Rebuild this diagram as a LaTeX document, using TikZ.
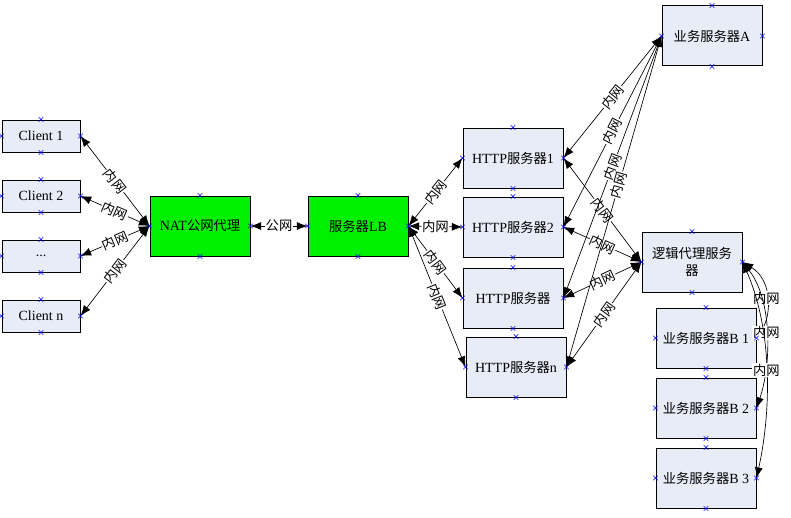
\documentclass[tikz,border=0pt]{standalone}
\usepackage{fontspec}
\setmainfont{Liberation Serif}
\newfontfamily\cjk[Scale=0.95]{Noto Sans CJK SC}
\usepackage{xcolor}
\usepackage{tikz}
\usetikzlibrary{arrows.meta,shapes.misc}

\definecolor{boxblue}{RGB}{232,236,247}
\definecolor{natgreen}{RGB}{0,240,0}
\newcommand\nw{{\cjk 内网}}

\begin{document}
\begin{tikzpicture}[x=0.75pt,y=-0.75pt,
    font=\fontsize{10.5}{12.5}\selectfont,
    box/.style={draw,line width=0.75pt,fill=boxblue,minimum width=75pt,minimum height=45pt,inner sep=1pt,align=center},
    client/.style={box,minimum width=58.5pt,minimum height=24pt},
    green box/.style={box,fill=natgreen},
    link/.style={line width=0.5pt,{Latex[length=8pt,width=6pt]}-{Latex[length=8pt,width=6pt]}},
    lbl/.style={midway,sloped,fill=white,inner sep=0.5pt},
    flat lbl/.style={midway,fill=white,inner sep=0.5pt},
    port/.style={cross out,draw=blue,line width=0.4pt,minimum size=3pt,inner sep=0pt}]
    \useasboundingbox (0,0) rectangle (791,517);

    % clients
    \node [client] (c1) at (41,136) {Client 1};
    \node [client] (c2) at (41,196) {Client 2};
    \node [client] (c3) at (41,256) {...};
    \node [client] (c4) at (41,316) {Client n};

    % proxy and load balancer
    \node [green box] (nat) at (200,226) {NAT{\cjk 公网代理}};
    \node [green box] (lb) at (358,226) {{\cjk 服务器}LB};

    % http servers
    \node [box] (h1) at (513,158) {HTTP{\cjk 服务器}1};
    \node [box] (h2) at (513,227) {HTTP{\cjk 服务器}2};
    \node [box] (h3) at (513,298) {HTTP{\cjk 服务器}};
    \node [box] (h4) at (516,367) {HTTP{\cjk 服务器}n};

    % back end
    \node [box] (srva) at (712,36) {{\cjk 业务服务器}A};
    \node [box] (logic) at (692,262) {{\cjk 逻辑代理服务}\\{\cjk 器}};
    \node [box] (b1) at (706,338) {{\cjk 业务服务器}B 1};
    \node [box] (b2) at (706,408) {{\cjk 业务服务器}B 2};
    \node [box] (b3) at (706,478) {{\cjk 业务服务器}B 3};

    \foreach \c in {c1,c2,c3,c4}
        \draw [link] (\c.east) -- node [lbl] {\nw} (nat.west);
    \draw [link] (nat.east) -- node [flat lbl] {{\cjk 公网}} (lb.west);
    \foreach \h/\p in {h1/0.5,h2/0.5,h3/0.5,h4/0.45} {
        \draw [link] (lb.east) -- node [lbl] {\nw} (\h.west);
        \draw [link] (srva.west) -- node [lbl,pos=\p] {\nw} (\h.east);
        \draw [link] (logic.west) -- node [lbl] {\nw} (\h.east);
    }
    \draw [link] (logic.east) .. controls +(30,18) and +(15,-23) .. node [flat lbl] {\nw} (b1.east);
    \draw [link] (logic.east) .. controls +(30,38) and +(15,-44) .. node [flat lbl] {\nw} (b2.east);
    \draw [link] (logic.east) .. controls +(30,68) and +(15,-68) .. node [flat lbl] {\nw} (b3.east);

    % connection points
    \foreach \n in {c1,c2,c3,c4,nat,lb,h1,h2,h3,h4,srva,logic,b1,b2,b3}
        \foreach \a in {north,south,east,west}
            \node [port] at (\n.\a) {};
\end{tikzpicture}
\end{document}
